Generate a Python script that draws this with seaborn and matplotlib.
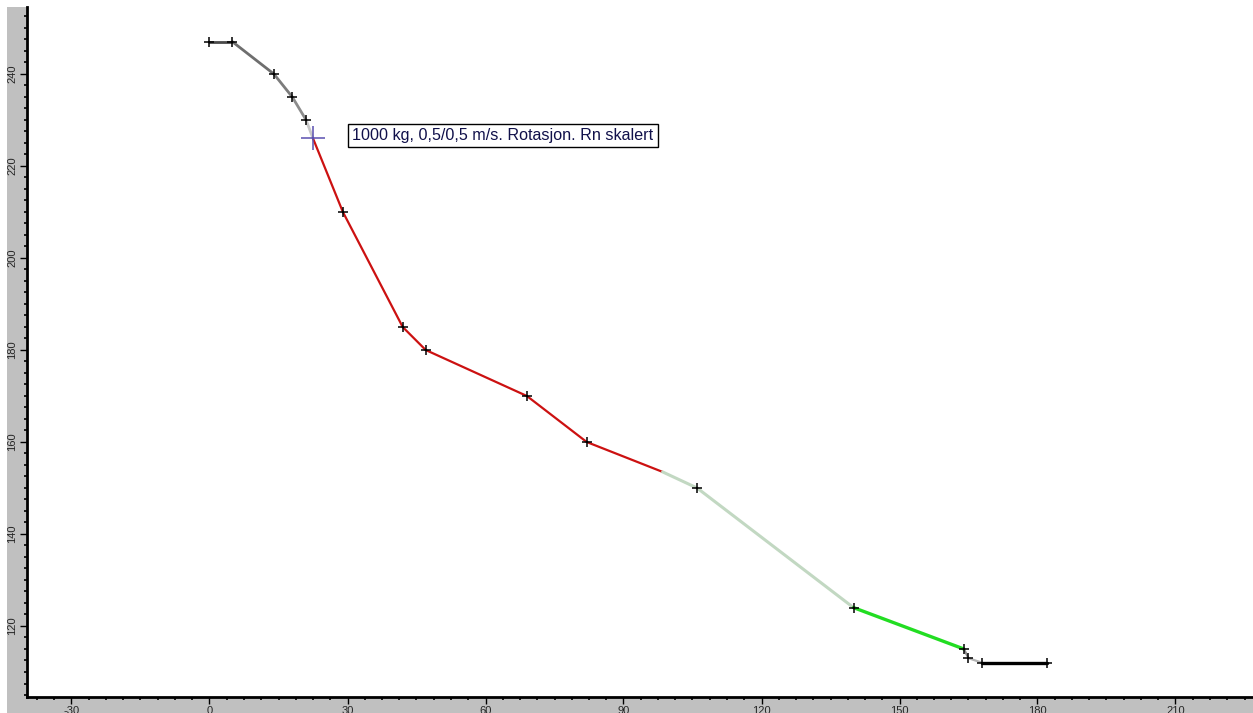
import matplotlib
matplotlib.use("Agg")
import matplotlib.pyplot as plt
from matplotlib.patches import Rectangle
from matplotlib.ticker import MultipleLocator
import seaborn as sns

sns.set_style("white")
plt.rcParams['font.family'] = ['Liberation Sans', 'DejaVu Sans']

# ---- data ----
path_x = [0, 5, 14, 18, 21, 22.5, 29, 42, 47, 69, 82, 98.5, 106, 140, 164, 165, 168, 182]
path_y = [247, 247, 240, 235, 230, 226, 210, 185, 180, 170, 160, 153.5, 150, 124, 115, 113, 112, 112]
segment_colors = ['#4a4a4a', '#6e6e6e', '#7c7c7c', '#8c8c8c', '#c8c8c8',
                  '#cc1111', '#cc1111', '#cc1111', '#cc1111', '#cc1111', '#cc1111',
                  '#c2d8c2', '#c2d8c2', '#22dd22', '#8a8a8a', '#b4b4b4', '#000000']
segment_widths = [2, 2, 2, 2, 2, 1.6, 1.6, 1.6, 1.6, 1.6, 1.6, 2.2, 2.2, 2.4, 1.6, 1.6, 2.4]
marker_idx = [0, 1, 2, 3, 4, 6, 7, 8, 9, 10, 12, 13, 14, 15, 16, 17]
start_idx = 5
label_text = "1000 kg, 0,5/0,5 m/s. Rotasjon. Rn skalert"
x_major = [-30, 0, 30, 60, 90, 120, 150, 180, 210]
y_major = [120, 140, 160, 180, 200, 220, 240]

W, H = 1253, 713
fig = plt.figure(figsize=(W / 100, H / 100), dpi=100)
fig.patch.set_facecolor('white')

# gray frame (L shape) behind axes
fig.patches.append(Rectangle((7 / W, 0), 20 / W, (H - 7) / H, transform=fig.transFigure,
                             facecolor='#c0c0c0', edgecolor='none', zorder=-5))
fig.patches.append(Rectangle((7 / W, 0), (W - 7) / W, 16.5 / H, transform=fig.transFigure,
                             facecolor='#c0c0c0', edgecolor='none', zorder=-5))

left, bottom_px, top_px = 27, 696.5, 7
ax = fig.add_axes([left / W, (H - bottom_px) / H, (W - left) / W, (bottom_px - top_px) / H])
ax.set_facecolor('white')

# scale: ~4.6 px per unit, x=0 at px 209.5, y=120 at px 626
s = 4.6
ax.set_xlim((left - 209.5) / s, (W - 209.5) / s)
ax.set_ylim(120 - (bottom_px - 626) / s, 120 + (626 - top_px) / s)

for i in range(len(path_x) - 1):
    sns.lineplot(x=path_x[i:i + 2], y=path_y[i:i + 2], color=segment_colors[i],
                 lw=segment_widths[i], sort=False, ax=ax, zorder=2)

mx = [path_x[i] for i in marker_idx]
my = [path_y[i] for i in marker_idx]
sns.scatterplot(x=mx, y=my, marker='+', s=60, color='black', linewidth=1.1, ax=ax, zorder=3)
sns.scatterplot(x=[path_x[start_idx]], y=[path_y[start_idx]], marker='+', s=280,
                color='#5a4fb0', linewidth=1.1, ax=ax, zorder=4)

ax.text(path_x[start_idx] + 8.5, path_y[start_idx] + 0.6, label_text, fontsize=11.6,
        color='#10104a', va='center', ha='left', zorder=5,
        bbox=dict(boxstyle='square,pad=0.27', facecolor='white', edgecolor='black', linewidth=1))

for side in ['top', 'right']:
    ax.spines[side].set_visible(False)
for side in ['left', 'bottom']:
    ax.spines[side].set_color('black')
    ax.spines[side].set_linewidth(2)

ax.set_xticks(x_major)
ax.set_yticks(y_major)
ax.set_xticklabels([str(v) for v in x_major])
ax.set_yticklabels([str(v) for v in y_major], rotation=90, va='center')
ax.xaxis.set_minor_locator(MultipleLocator(3.75))
ax.yaxis.set_minor_locator(MultipleLocator(2.5))
ax.tick_params(which='major', direction='out', length=5, width=1, color='black',
               labelsize=8, pad=2, left=True, bottom=True)
ax.tick_params(which='minor', direction='out', length=2.2, width=1.2, color='black',
               left=True, bottom=True)
ax.grid(False)

fig.savefig('out.png', dpi=100, facecolor=fig.get_facecolor())
